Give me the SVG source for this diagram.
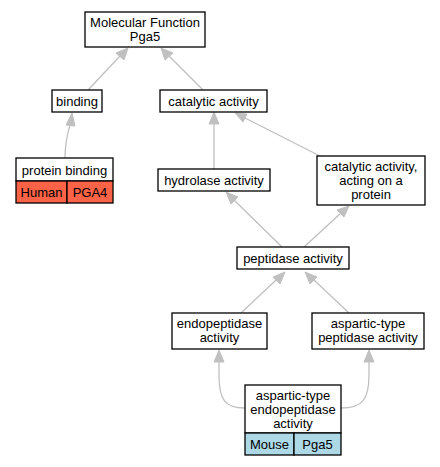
<svg xmlns="http://www.w3.org/2000/svg" width="440" height="467" viewBox="0 0 440 467">
<style>
.b{fill:#fff;stroke:#000;stroke-width:1.3}
.h{fill:#ff6347;stroke:#000;stroke-width:1.3}
.m{fill:#add8e6;stroke:#000;stroke-width:1.3}
text{font-family:"Liberation Sans",Arial,sans-serif;font-size:13px;text-anchor:middle;fill:#000}
.e path{fill:none;stroke:#c0c0c0;stroke-width:1.3}
.e polygon{fill:#c0c0c0;stroke:#c0c0c0}
</style>
<rect width="440" height="467" fill="#fff"/>
<g class="e" id="edges">
<path d="M88,90 L120,56"/><polygon points="128,48 124,60 116,53"/>
<path d="M203,90 L169,56"/><polygon points="161,48 173,53 165,60"/>
<path d="M65,158 C65,145 67,135 70,125"/><polygon points="72,113 75,126 66,125"/>
<path d="M214,169 L214,124"/><polygon points="214,112 219,124 209,124"/>
<path d="M322,157 L245,118"/><polygon points="235,113 247,114 243,122"/>
<path d="M282,247 L234,200"/><polygon points="226,192 238,197 231,204"/>
<path d="M304,247 L341,213"/><polygon points="349,206 344,217 337,210"/>
<path d="M241,313 L276,280"/><polygon points="285,272 280,284 273,277"/>
<path d="M349,313 L314,280"/><polygon points="305,272 317,277 310,284"/>
<path d="M245,408 C225,408 219,400 219,375 L219,362"/><polygon points="219,350 224,362 214,362"/>
<path d="M341,408 C362,408 369,400 369,375 L369,362"/><polygon points="369,350 374,362 364,362"/>
</g>
<g id="n_mf"><rect class="b" x="85" y="12" width="120" height="35"/><text x="145" y="26.5">Molecular Function</text><text x="145" y="40.5">Pga5</text></g>
<g id="n_binding"><rect class="b" x="52" y="90" width="50" height="22"/><text x="77" y="105.5">binding</text></g>
<g id="n_cat"><rect class="b" x="160" y="90" width="107" height="22"/><text x="213.5" y="105.5">catalytic activity</text></g>
<g id="n_pb"><rect class="b" x="16" y="158" width="97" height="23"/><text x="64.5" y="174.5">protein binding</text>
<rect class="h" x="16" y="181" width="51" height="22"/><text x="41.5" y="196.5">Human</text>
<rect class="h" x="67" y="181" width="46" height="22"/><text x="90" y="196.5">PGA4</text></g>
<g id="n_hyd"><rect class="b" x="158" y="169" width="112" height="22"/><text x="214" y="184.5">hydrolase activity</text></g>
<g id="n_catp"><rect class="b" x="317" y="156" width="108" height="49"/><text x="371" y="170.5">catalytic activity,</text><text x="371" y="184.5">acting on a</text><text x="371" y="198.5">protein</text></g>
<g id="n_pep"><rect class="b" x="237" y="247" width="112" height="22"/><text x="293" y="262.5">peptidase activity</text></g>
<g id="n_endo"><rect class="b" x="172" y="313" width="95" height="36"/><text x="219.5" y="327.5">endopeptidase</text><text x="219.5" y="341.5">activity</text></g>
<g id="n_asp"><rect class="b" x="312" y="313" width="112" height="36"/><text x="368" y="327.5">aspartic-type</text><text x="368" y="341.5">peptidase activity</text></g>
<g id="n_aspendo"><rect class="b" x="245" y="385" width="96" height="48"/><text x="293" y="399.5">aspartic-type</text><text x="293" y="413.5">endopeptidase</text><text x="293" y="427.5">activity</text>
<rect class="m" x="245" y="433" width="49" height="22"/><text x="269.5" y="448.5">Mouse</text>
<rect class="m" x="294" y="433" width="47" height="22"/><text x="317.5" y="448.5">Pga5</text></g>
</svg>
